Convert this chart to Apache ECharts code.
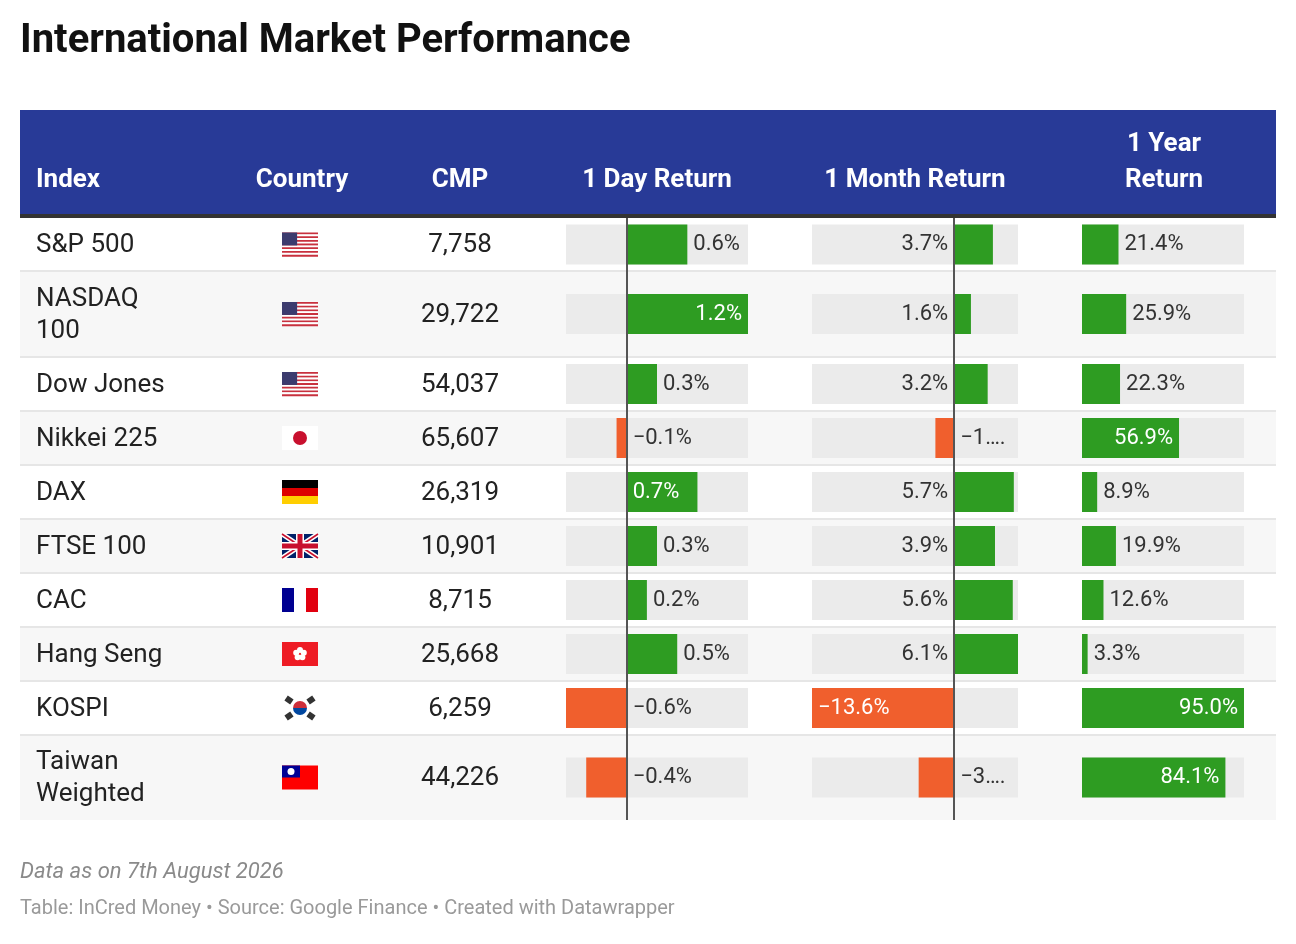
<!DOCTYPE html>
<html>
<head>
<meta charset="utf-8">
<script src="https://cdn.jsdelivr.net/npm/echarts@6/dist/echarts.min.js"></script>
<style>
  html, body { margin: 0; padding: 0; background: #fff; }
  #chart { width: 1296px; height: 944px; }
</style>
</head>
<body>
<div id="chart"></div>
<script>
// data
const indexNames = ["S&P 500", "NASDAQ\n100", "Dow Jones", "Nikkei 225", "DAX", "FTSE 100", "CAC", "Hang Seng", "KOSPI", "Taiwan\nWeighted"];
const countries = ["us", "us", "us", "jp", "de", "uk", "fr", "hk", "kr", "tw"];
const cmp = ["7,758", "29,722", "54,037", "65,607", "26,319", "10,901", "8,715", "25,668", "6,259", "44,226"];
const dayReturn = [0.6, 1.2, 0.3, -0.1, 0.7, 0.3, 0.2, 0.5, -0.6, -0.4];
const monthReturn = [3.7, 1.6, 3.2, -1.8, 5.7, 3.9, 5.6, 6.1, -13.6, -3.4];
const yearReturn = [21.4, 25.9, 22.3, 56.9, 8.9, 19.9, 12.6, 3.3, 95.0, 84.1];
const headers = ["Index", "Country", "CMP", "1 Day Return", "1 Month Return", "1 Year\nReturn"];

// layout
const rowTops = [218, 271, 357, 411, 465, 519, 573, 627, 681, 735, 820];
const GREEN = "#2e9c22", ORANGE = "#f05f2d", TRACK = "#ebebeb";
const FONT = "Roboto, sans-serif";

const fmt = v => (v < 0 ? "\u2212" : "") + Math.abs(v).toFixed(1) + "%";

const columns = [
  { data: dayReturn, x0: 566, x1: 748, min: -0.6, max: 1.2, zero: true,
    label: v => {
      if (v >= 1) return { position: "insideRight", color: "#fff" };
      if (v >= 0.7) return { position: "insideLeft", color: "#fff" };
      return { position: "right", color: "#333" };
    } },
  { data: monthReturn, x0: 812, x1: 1018, min: -13.6, max: 6.1, zero: true,
    label: v => {
      if (v >= 0) return { position: "left", color: "#333" };
      if (v < -10) return { position: "insideLeft", color: "#fff" };
      return { position: "right", color: "#333",
        formatter: "\u2212" + Math.floor(Math.abs(v)) + "\u2026." };
    } },
  { data: yearReturn, x0: 1082, x1: 1244, min: 0, max: 95, zero: false,
    label: v => v > 50 ? { position: "insideRight", color: "#fff" } : { position: "right", color: "#333" } }
];

const grids = [], xAxes = [], yAxes = [], series = [];
columns.forEach(col => {
  col.data.forEach((v, i) => {
    const gi = grids.length;
    grids.push({ left: col.x0, width: col.x1 - col.x0, top: rowTops[i], height: rowTops[i + 1] - rowTops[i] });
    xAxes.push({ type: "value", gridIndex: gi, min: col.min, max: col.max, show: false });
    yAxes.push({ type: "category", gridIndex: gi, data: ["r"], show: false });
    const base = { type: "bar", xAxisIndex: gi, yAxisIndex: gi, barWidth: 40, barGap: "-100%", silent: true, animation: false };
    if (col.min < 0) series.push(Object.assign({}, base, { data: [col.min], itemStyle: { color: TRACK } }));
    series.push(Object.assign({}, base, { data: [col.max], itemStyle: { color: TRACK } }));
    const lb = col.label(v);
    const s = Object.assign({}, base, {
      data: [v],
      itemStyle: { color: v < 0 ? ORANGE : GREEN },
      label: { show: true, position: lb.position, color: lb.color, distance: 6,
        fontFamily: FONT, fontSize: 22, formatter: lb.formatter || (p => fmt(p.value)) }
    });
    if (col.zero) {
      s.markLine = { silent: true, symbol: "none", animation: false, label: { show: false },
        lineStyle: { color: "#555", width: 2, type: "solid" }, data: [{ xAxis: 0 }] };
    }
    series.push(s);
  });
});

// flags
function flag(code, cx, cy) {
  const w = 36, h = 24, x = cx - w / 2, y = cy - h / 2;
  const el = [];
  const rect = (rx, ry, rw, rh, fill) => el.push({ type: "rect", shape: { x: rx, y: ry, width: rw, height: rh }, style: { fill } });
  if (code === "us") {
    for (let k = 0; k < 13; k++) rect(x, y + k * h / 13, w, h / 13 + 0.3, k % 2 ? "#fff" : "#c8313e");
    rect(x, y, w * 0.42, h * 7 / 13, "#3c3b6e");
  } else if (code === "jp") {
    rect(x, y, w, h, "#fff");
    el.push({ type: "circle", shape: { cx, cy, r: 7 }, style: { fill: "#c8102e" } });
  } else if (code === "de") {
    rect(x, y, w, h / 3, "#000"); rect(x, y + h / 3, w, h / 3, "#dd0000"); rect(x, y + 2 * h / 3, w, h / 3, "#ffce00");
  } else if (code === "uk") {
    rect(x, y, w, h, "#012169");
    const ln = (x1, y1, x2, y2, c, lw) => el.push({ type: "line", shape: { x1, y1, x2, y2 }, style: { stroke: c, lineWidth: lw } });
    ln(x, y, x + w, y + h, "#fff", 5); ln(x + w, y, x, y + h, "#fff", 5);
    ln(x, y, x + w, y + h, "#c8102e", 1.6); ln(x + w, y, x, y + h, "#c8102e", 1.6);
    rect(cx - 4, y, 8, h, "#fff"); rect(x, cy - 4, w, 8, "#fff");
    rect(cx - 2.5, y, 5, h, "#c8102e"); rect(x, cy - 2.5, w, 5, "#c8102e");
  } else if (code === "fr") {
    rect(x, y, w / 3, h, "#000091"); rect(x + w / 3, y, w / 3, h, "#fff"); rect(x + 2 * w / 3, y, w / 3, h, "#e1000f");
  } else if (code === "hk") {
    rect(x, y, w, h, "#ee1c25");
    for (let k = 0; k < 5; k++) {
      const a = -Math.PI / 2 + k * 2 * Math.PI / 5;
      el.push({ type: "circle", shape: { cx: cx + 4 * Math.cos(a), cy: cy + 4 * Math.sin(a), r: 3 }, style: { fill: "#fff" } });
    }
  } else if (code === "kr") {
    rect(x, y, w, h, "#fff");
    el.push({ type: "sector", shape: { cx, cy, r: 7, startAngle: Math.PI, endAngle: 2 * Math.PI }, style: { fill: "#cd2e3a" } });
    el.push({ type: "sector", shape: { cx, cy, r: 7, startAngle: 0, endAngle: Math.PI }, style: { fill: "#0047a0" } });
    [[-11, -8], [11, -8], [-11, 8], [11, 8]].forEach(([dx, dy]) => {
      el.push({ type: "rect", shape: { x: cx + dx - 3.5, y: cy + dy - 3, width: 7, height: 6 }, rotation: (dx * dy > 0 ? -0.6 : 0.6),
        originX: cx + dx, originY: cy + dy, style: { fill: "#333" } });
    });
  } else if (code === "tw") {
    rect(x, y, w, h, "#fe0000"); rect(x, y, w / 2, h / 2, "#000095");
    el.push({ type: "circle", shape: { cx: x + w / 4, cy: y + h / 4, r: 3.5 }, style: { fill: "#fff" } });
  }
  return el;
}

const graphic = [];
const txt = (text, x, y, opts) => graphic.push({ type: "text", x, y, silent: true, style: Object.assign({
  text, font: "26px " + FONT, fill: "#222", textAlign: "left", textVerticalAlign: "middle", lineHeight: 32 }, opts || {}) });

graphic.push({ type: "text", left: 20, top: 22, style: { text: "International Market Performance", font: "bold 40px " + FONT, fill: "#111" } });
graphic.push({ type: "rect", shape: { x: 20, y: 110, width: 1256, height: 105 }, style: { fill: "#283a97" } });
graphic.push({ type: "rect", shape: { x: 20, y: 214, width: 1256, height: 4 }, style: { fill: "#333" } });
const headX = [36, 302, 460, 657, 915, 1164];
headers.forEach((h, k) => txt(h, headX[k], k === 5 ? 162 : 180,
  { font: "bold 26px " + FONT, fill: "#fff", textAlign: k === 0 ? "left" : "center", lineHeight: 36 }));

indexNames.forEach((name, i) => {
  const top = rowTops[i], bot = rowTops[i + 1], cy = (top + bot) / 2;
  graphic.push({ type: "rect", z: -10, shape: { x: 20, y: top, width: 1256, height: bot - top }, style: { fill: i % 2 ? "#f7f7f7" : "#fff" } });
  if (i < indexNames.length - 1)
    graphic.push({ type: "rect", z: -5, shape: { x: 20, y: bot - 1, width: 1256, height: 2 }, style: { fill: "#e6e6e6" } });
  txt(name, 36, cy + 1);
  txt(cmp[i], 460, cy + 1, { textAlign: "center" });
  flag(countries[i], 300, cy).forEach(e => graphic.push(e));
});

graphic.push({ type: "text", left: 20, top: 861, style: { text: "Data as on 7th August 2026", font: "italic 22px " + FONT, fill: "#8a8a8a" } });
graphic.push({ type: "text", left: 20, top: 899, style: { text: "Table: InCred Money \u2022 Source: Google Finance \u2022 Created with Datawrapper", font: "20px " + FONT, fill: "#9a9a9a" } });

const chart = echarts.init(document.getElementById("chart"));
chart.setOption({
  animation: false,
  grid: grids, xAxis: xAxes, yAxis: yAxes, series,
  graphic: { elements: graphic }
});
</script>
</body>
</html>
